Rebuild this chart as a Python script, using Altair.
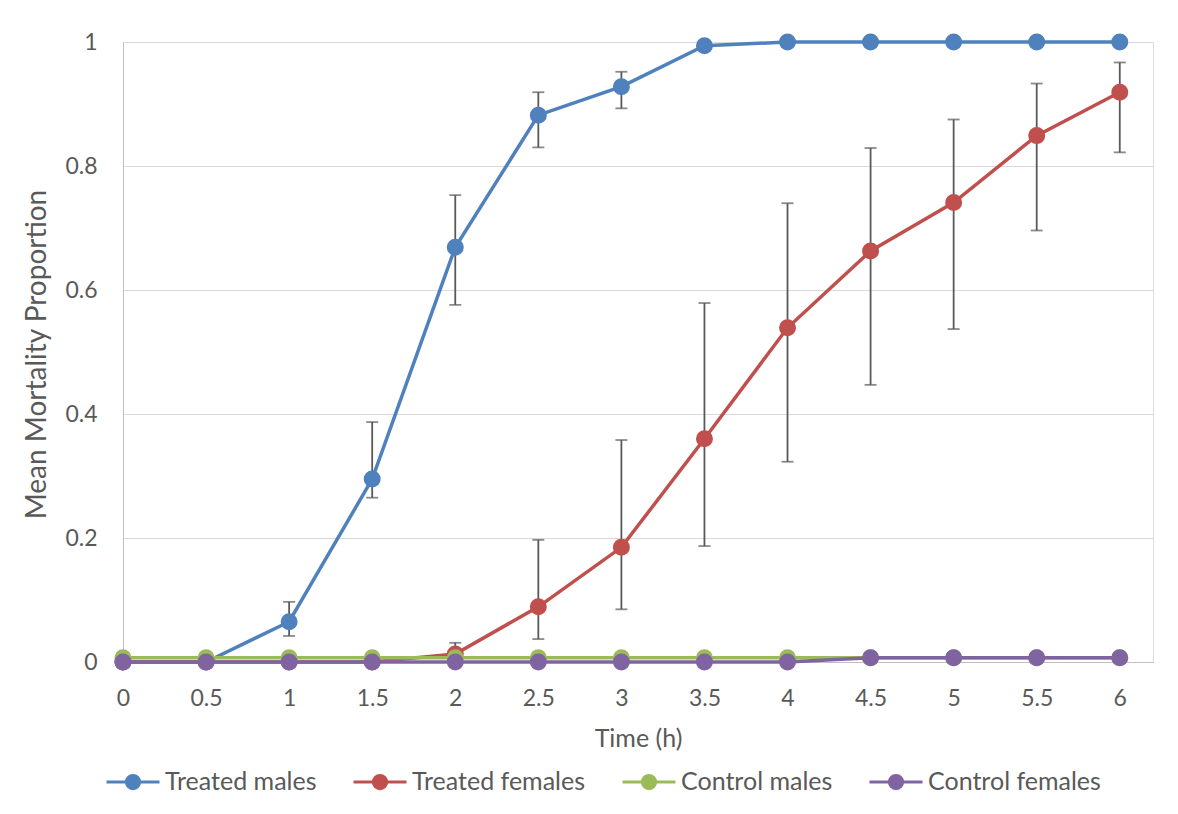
import altair as alt
import pandas as pd

# ---- data ----
times = [0, 0.5, 1, 1.5, 2, 2.5, 3, 3.5, 4, 4.5, 5, 5.5, 6]
series_names = ["Treated males", "Treated females", "Control males", "Control females"]
series_colors = ["#4F81BD", "#C0504D", "#9BBB59", "#8064A2"]

treated_males = [0, 0, 0.065, 0.295, 0.669, 0.882, 0.928, 0.994, 1, 1, 1, 1, 1]
treated_males_low = [None, None, 0.042, 0.265, 0.576, 0.830, 0.893, None, None, None, None, None, None]
treated_males_high = [None, None, 0.097, 0.387, 0.753, 0.919, 0.952, None, None, None, None, None, None]

treated_females = [0, 0, 0, 0, 0.013, 0.089, 0.185, 0.360, 0.539, 0.663, 0.741, 0.849, 0.919]
treated_females_low = [None, None, None, None, 0.0, 0.037, 0.085, 0.187, 0.323, 0.447, 0.537, 0.696, 0.822]
treated_females_high = [None, None, None, None, 0.031, 0.197, 0.358, 0.579, 0.740, 0.829, 0.875, 0.933, 0.967]

control_males = [0.007, 0.007, 0.007, 0.007, 0.007, 0.007, 0.007, 0.007, 0.007, 0.007, 0.007, 0.007, 0.007]
control_females = [0, 0, 0, 0, 0, 0, 0, 0, 0, 0.007, 0.007, 0.007, 0.007]

x_ticks = [0, 0.5, 1, 1.5, 2, 2.5, 3, 3.5, 4, 4.5, 5, 5.5, 6]
y_ticks = [0, 0.2, 0.4, 0.6, 0.8, 1]

values = [treated_males, treated_females, control_males, control_females]
lows = [treated_males_low, treated_females_low, [None] * 13, [None] * 13]
highs = [treated_males_high, treated_females_high, [None] * 13, [None] * 13]

rows = []
for name, vals, lo, hi in zip(series_names, values, lows, highs):
    for t, v, l, h in zip(times, vals, lo, hi):
        rows.append({"series": name, "time": t, "value": v, "low": l, "high": h})
df = pd.DataFrame(rows)

FONT = "Lato"
TXT = "#595959"

legend_symbol = ("M0.25,0A0.25,0.25,0,1,1,-0.25,0A0.25,0.25,0,1,1,0.25,0Z"
                 "M-1,0L1,0")

sc = alt.Scale(domain=series_names, range=series_colors)
leg = alt.Legend(
    title=None, orient="none", direction="horizontal", columns=4,
    legendX=-18, legendY=712,
    symbolType=legend_symbol, symbolSize=2809, symbolStrokeWidth=3,
    labelFont=FONT, labelFontSize=25, labelColor=TXT, labelOffset=4,
    labelLimit=0, columnPadding=30, symbolOpacity=1,
)

x_enc = alt.X("time:Q", scale=alt.Scale(domain=[0, 6.2], nice=False),
              axis=alt.Axis(values=x_ticks, format="~g", title="Time (h)",
                            grid=False, ticks=False, domainColor="#BFBFBF",
                            labelFlush=False,
                            labelFont=FONT, labelFontSize=23, labelColor=TXT,
                            labelPadding=25, titleFont=FONT, titleFontSize=25,
                            titleColor=TXT, titleFontWeight="normal",
                            titleY=76, titleBaseline="middle"))
y_enc = alt.Y("value:Q", scale=alt.Scale(domain=[0, 1], nice=False),
              axis=alt.Axis(values=y_ticks, format="~g",
                            title="Mean Mortality Proportion",
                            grid=True, gridColor="#D9D9D9", ticks=False,
                            domainColor="#BFBFBF", labelFont=FONT,
                            labelFlush=False,
                            labelFontSize=23, labelColor=TXT, labelPadding=26,
                            titleFont=FONT, titleFontSize=28, titleColor=TXT,
                            titleFontWeight="normal", titleX=-86, titleY=312,
                            titleBaseline="middle", titleAlign="center"))

base = alt.Chart(df)
layers = []
for i, name in enumerate(series_names):
    s = base.transform_filter(alt.datum.series == name)
    err = s.transform_filter("isValid(datum.low) && isValid(datum.high)")
    layers.append(err.mark_rule(color="#595959", strokeWidth=1.8).encode(
        x=x_enc, y=alt.Y("low:Q"), y2="high:Q"))
    layers.append(err.mark_tick(color="#595959", orient="horizontal", size=12,
                                thickness=1.8).encode(x=x_enc, y=alt.Y("low:Q")))
    layers.append(err.mark_tick(color="#595959", orient="horizontal", size=12,
                                thickness=1.8).encode(x=x_enc, y=alt.Y("high:Q")))
    layers.append(s.mark_line(strokeWidth=3.5).encode(
        x=x_enc, y=y_enc, stroke=alt.Stroke("series:N", scale=sc, legend=leg)))
    layers.append(s.mark_point(filled=True, size=225, opacity=1).encode(
        x=x_enc, y=y_enc,
        fill=alt.Fill("series:N", scale=sc, legend=leg),
        stroke=alt.Stroke("series:N", scale=sc, legend=leg)))

chart = alt.layer(*layers).properties(
    width=1030, height=620,
    autosize=alt.AutoSizeParams(type="none"),
    padding={"left": 115, "top": 34, "right": 10, "bottom": 140},
).configure_view(stroke=None).configure(background="white")

chart.save("out.html", embed_options={"renderer": "svg", "actions": False})
